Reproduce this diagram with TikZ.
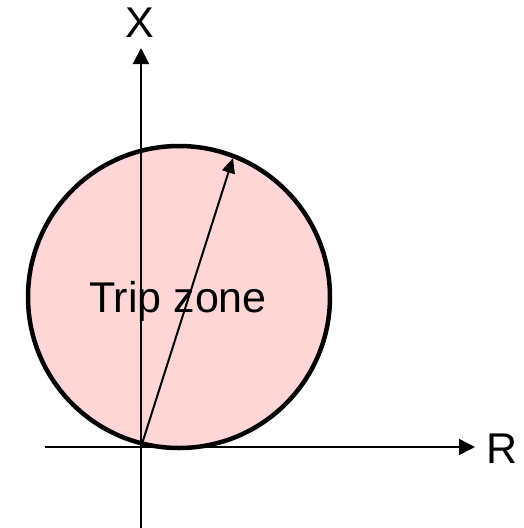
\documentclass[tikz,border=0pt]{standalone}
\usepackage{fontspec}
\setmainfont{Liberation Sans}
\usetikzlibrary{arrows.meta}
\definecolor{tripfill}{RGB}{255,214,214}
\tikzset{
  axisline/.style={line width=2.2pt,-{Triangle[length=16pt,width=16pt]}},
  radiusline/.style={line width=2pt,-{Triangle[length=15pt,width=13pt]}},
  zone/.style={circle,draw=black,line width=4.5pt,fill=tripfill,minimum size=302pt,inner sep=0pt},
  axislabel/.style={font=\fontsize{43}{43}\selectfont,inner sep=0pt}
}
\begin{document}
\begin{tikzpicture}[x=1pt,y=-1pt]
\useasboundingbox (0,0) rectangle (524,528);
\node[zone] (zone) at (179,297) {};
\coordinate (O) at (141,447);
\coordinate (xbot) at (141,528);
\coordinate (xtop) at (141,48);
\coordinate (rleft) at (45,447);
\coordinate (rright) at (475,447);
\coordinate (T) at (233,158);
\draw[axisline] (xbot) -- (xtop);
\draw[axisline,line width=1.6pt] (rleft) -- (rright);
\node[font=\fontsize{43}{43}\selectfont,inner sep=0pt,anchor=base] (trip) at (178,312) {Trip zone};
\draw[radiusline] (O) -- (T);
\node[axislabel] (xl) at (140,23) {X};
\node[axislabel,anchor=west] (rl) at (486,449) {R};
\end{tikzpicture}
\end{document}
